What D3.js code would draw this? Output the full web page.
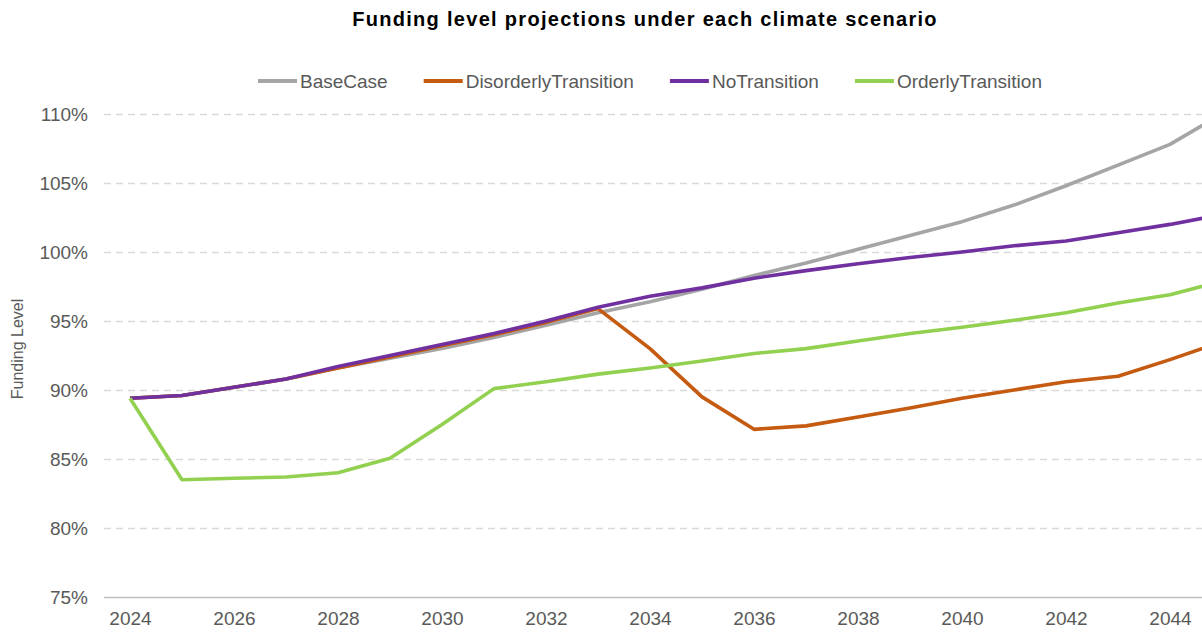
<!DOCTYPE html>
<html>
<head>
<meta charset="utf-8">
<script src="https://cdn.jsdelivr.net/npm/d3@7"></script>
<style>
  body { margin: 0; background: #fff; }
  #chart { width: 1202px; height: 633px; overflow: hidden; }
  text { font-family: Arial, "Liberation Sans", sans-serif; }
</style>
</head>
<body>
<div id="chart"></div>
<script>
// Funding level projections

const years = d3.range(2024, 2046);
const xTickLabels = [2024, 2026, 2028, 2030, 2032, 2034, 2036, 2038, 2040, 2042, 2044];
const yTicks = [75, 80, 85, 90, 95, 100, 105, 110];

const seriesNames = ['BaseCase', 'DisorderlyTransition', 'NoTransition', 'OrderlyTransition'];
const seriesColors = ['#a5a5a5', '#c55a11', '#7030a0', '#92d050'];

const baseCase = [89.4, 89.6, 90.2, 90.8, 91.6, 92.3, 93.0, 93.8, 94.7, 95.6, 96.4, 97.3,
                  98.3, 99.2, 100.2, 101.2, 102.2, 103.4, 104.8, 106.3, 107.8, 110.0];
const disorderly = [89.4, 89.6, 90.2, 90.8, 91.6, 92.4, 93.2, 94.0, 94.9, 95.9, 93.0, 89.5,
                    87.15, 87.4, 88.05, 88.7, 89.4, 90.0, 90.6, 91.0, 92.2, 93.5];
const noTransition = [89.4, 89.6, 90.2, 90.8, 91.7, 92.5, 93.3, 94.1, 95.0, 96.0, 96.8, 97.4,
                      98.1, 98.65, 99.15, 99.6, 100.0, 100.45, 100.8, 101.4, 102.0, 102.7];
const orderly = [89.4, 83.5, 83.6, 83.7, 84.0, 85.05, 87.5, 90.1, 90.6, 91.15, 91.6, 92.1,
                 92.65, 93.0, 93.55, 94.1, 94.55, 95.05, 95.6, 96.3, 96.9, 97.9];

const seriesValues = [baseCase, disorderly, noTransition, orderly];

// Layout (the original chart is wider than the window and gets cropped on the right)
const fullWidth = 1290;
const plot = {left: 104, right: 1248, top: 114, bottom: 597};

const svg = d3.select('#chart')
    .append('svg')
    .attr('width', 1202)
    .attr('height', 633);

const x = d3.scalePoint()
    .domain(years)
    .range([plot.left, plot.right])
    .padding(0.5);

const y = d3.scaleLinear()
    .domain([75, 110])
    .range([plot.bottom, plot.top]);

// Gridlines
const grid = svg.append('g')
    .attr('transform', `translate(${plot.left},0)`)
    .call(d3.axisLeft(y).tickValues(yTicks.filter(d => d > 75))
        .tickSize(-(plot.right - plot.left)).tickFormat(''));
grid.select('.domain').remove();
grid.selectAll('line')
    .attr('stroke', '#d9d9d9')
    .attr('stroke-width', 1.4)
    .attr('stroke-dasharray', '7,5');

// Y axis labels
const yAxis = svg.append('g')
    .attr('transform', `translate(${plot.left},0)`)
    .call(d3.axisLeft(y).tickValues(yTicks).tickSize(0).tickPadding(16)
        .tickFormat(d => d + '%'));
yAxis.select('.domain').remove();
yAxis.selectAll('text')
    .attr('fill', '#595959')
    .style('font-size', '19px');

// X axis
const xAxis = svg.append('g')
    .attr('transform', `translate(0,${plot.bottom})`)
    .call(d3.axisBottom(x).tickValues(xTickLabels).tickSize(0).tickPadding(15));
xAxis.select('.domain')
    .attr('stroke', '#bfbfbf')
    .attr('stroke-width', 1.4)
    .attr('d', `M${plot.left},0.5H${plot.right}`);
xAxis.selectAll('text')
    .attr('fill', '#595959')
    .style('font-size', '19px');

// Y axis title
svg.append('text')
    .attr('transform', `translate(23,349) rotate(-90)`)
    .attr('text-anchor', 'middle')
    .attr('fill', '#595959')
    .style('font-size', '16px')
    .text('Funding Level');

// Lines
const line = d3.line()
    .x((d, i) => x(years[i]))
    .y(d => y(d));

seriesValues.forEach((vals, i) => {
    svg.append('path')
        .datum(vals)
        .attr('fill', 'none')
        .attr('stroke', seriesColors[i])
        .attr('stroke-width', 3.6)
        .attr('stroke-linejoin', 'round')
        .attr('d', line);
});

// Title
svg.append('text')
    .attr('x', fullWidth / 2)
    .attr('y', 26)
    .attr('text-anchor', 'middle')
    .attr('fill', '#000')
    .style('font-size', '20px')
    .style('font-weight', 'bold')
    .style('letter-spacing', '1.3px')
    .text('Funding level projections under each climate scenario');

// Legend
const legend = svg.append('g')
    .attr('transform', 'translate(258,81)');

let lx = 0;
seriesNames.forEach((name, i) => {
    const item = legend.append('g').attr('transform', `translate(${lx},0)`);
    item.append('line')
        .attr('x1', 0).attr('x2', 39)
        .attr('stroke', seriesColors[i])
        .attr('stroke-width', 4);
    const t = item.append('text')
        .attr('x', 42)
        .attr('dy', '0.35em')
        .attr('fill', '#595959')
        .style('font-size', '19px')
        .text(name);
    lx += 42 + t.node().getComputedTextLength() + 36;
});
</script>
</body>
</html>
